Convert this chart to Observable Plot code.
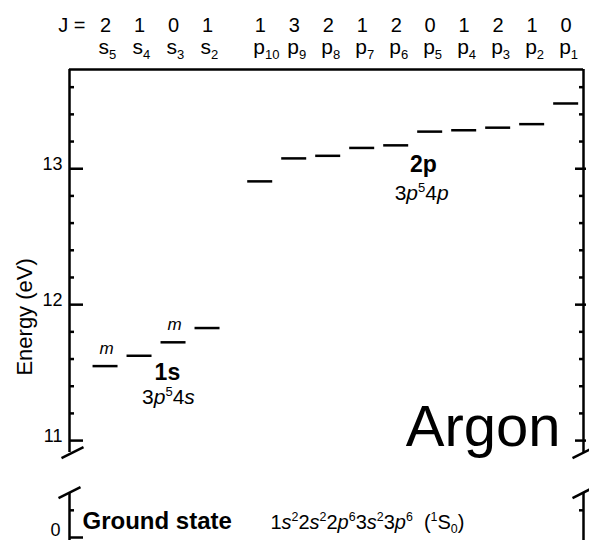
<!DOCTYPE html>
<html>
<head>
<meta charset="utf-8">
<script src="https://cdn.jsdelivr.net/npm/d3@7"></script>
<script src="https://cdn.jsdelivr.net/npm/@observablehq/plot@0.6"></script>
<style>
  html, body { margin: 0; padding: 0; background: #fff; }
  #chart svg { display: block; }
</style>
</head>
<body>
<div id="chart"></div>
<script>
// ---------------- data ----------------
const sLevels = ["s5", "s4", "s3", "s2"];
const sJ = [2, 1, 0, 1];
const sEnergy = [11.548, 11.624, 11.723, 11.828];

const pLevels = ["p10", "p9", "p8", "p7", "p6", "p5", "p4", "p3", "p2", "p1"];
const pJ = [1, 3, 2, 1, 2, 0, 1, 2, 1, 0];
const pEnergy = [12.907, 13.076, 13.095, 13.153, 13.172, 13.273, 13.283, 13.302, 13.328, 13.480];

const metastable = ["s5", "s3"];
const groundEnergy = 0;

const majorTicks = [0, 11, 12, 13];
const minorTicks = [0.2, 11.2, 11.4, 11.6, 11.8, 12.2, 12.4, 12.6, 12.8, 13.2, 13.4, 13.6];

const yLabel = "Energy (eV)";
const jPrefix = "J =";
const sGroupName = "1s";
const sGroupConfig = "3<i>p</i><sup>5</sup>4<i>s</i>";
const pGroupName = "2p";
const pGroupConfig = "3<i>p</i><sup>5</sup>4<i>p</i>";
const elementName = "Argon";
const groundName = "Ground state";
const groundConfig = "1<i>s</i><sup>2</sup>2<i>s</i><sup>2</sup>2<i>p</i><sup>6</sup>3<i>s</i><sup>2</sup>3<i>p</i><sup>6</sup>  (<sup>1</sup>S<sub>0</sub>)";
const metaMark = "m";

// ---------------- layout ----------------
const W = 589, H = 540;
const mL = 69, mR = 6, mT = 69, mB = 0;
const xDom = [-1.06, 14.06];
const yDom = [10.265, 13.73];
const kx = (W - mL - mR) / (xDom[1] - xDom[0]);
const ky = (H - mT - mB) / (yDom[1] - yDom[0]);
const xL = xDom[0], xR = xDom[1], yTop = yDom[1], yBot = yDom[0];
const groundShift = 10.287;            // broken axis: ground-state segment shifted up
const toV = e => (e < 5 ? e + groundShift : e);
const breakUpper = 10.912;             // where the upper axis segment ends
const breakLower = toV(0.331);         // where the lower axis segment starts
const groupGap = 1.55;

const levels = [
  ...sLevels.map((name, i) => ({name, J: sJ[i], E: sEnergy[i], col: i, letter: "s", sub: name.slice(1)})),
  ...pLevels.map((name, i) => ({name, J: pJ[i], E: pEnergy[i], col: sLevels.length - 1 + groupGap + i, letter: "p", sub: name.slice(1)}))
];
const levelMarkup = levels.map(d => `${d.letter}<sub>${d.sub}</sub>`);
const strip = m => m.replace(/<[^>]+>/g, "");

const axisSegs = [
  {x: xL, y1: breakUpper, y2: yTop}, {x: xL, y1: yBot, y2: breakLower},
  {x: xR, y1: breakUpper, y2: yTop}, {x: xR, y1: yBot, y2: breakLower}
];
const breaks = [
  {x: xL, v: breakUpper, s: 3}, {x: xR, v: breakUpper, s: 0},
  {x: xL, v: breakLower, s: 0}, {x: xR, v: breakLower, s: 0}
];

const F = "Liberation Sans, Arial, Helvetica, sans-serif";
const SW = 2.5;

const chart = Plot.plot({
  width: W, height: H,
  marginLeft: mL, marginRight: mR, marginTop: mT, marginBottom: mB,
  x: {domain: xDom, axis: null},
  y: {domain: yDom, axis: null},
  style: {fontFamily: F, background: "#fff", color: "#000", overflow: "visible"},
  marks: [
    // frame
    Plot.ruleY([yTop], {x1: xL, x2: xR, stroke: "#000", strokeWidth: SW}),
    Plot.ruleX(axisSegs, {x: "x", y1: "y1", y2: "y2", stroke: "#000", strokeWidth: SW}),
    Plot.link(breaks, {
      x1: d => d.x + (d.s - 11) / kx, y1: d => d.v - 5.5 / ky,
      x2: d => d.x + (d.s + 11) / kx, y2: d => d.v + 5.5 / ky,
      stroke: "#000", strokeWidth: SW
    }),
    // ticks (inward)
    Plot.ruleY(majorTicks, {y: d => toV(d), x1: xL, x2: xL + 14 / kx, stroke: "#000", strokeWidth: SW}),
    Plot.ruleY(minorTicks, {y: d => toV(d), x1: xL, x2: xL + 5 / kx, stroke: "#000", strokeWidth: SW}),
    Plot.ruleY(majorTicks.filter(d => d > 5), {y: d => toV(d), x1: xR - 8 / kx, x2: xR + 3 / kx, stroke: "#000", strokeWidth: SW}),
    Plot.ruleY(minorTicks, {y: d => toV(d), x1: xR - 4 / kx, x2: xR, stroke: "#000", strokeWidth: SW}),
    Plot.text(majorTicks.filter(d => d > 5), {x: xL, y: d => toV(d), text: d => String(d), dx: -7, dy: -4, textAnchor: "end", fontSize: 18}),
    Plot.text(majorTicks.filter(d => d < 5), {x: xL, y: d => toV(d), text: d => String(d), dx: -9, dy: -7, textAnchor: "end", fontSize: 18}),
    Plot.text([yLabel], {x: xL, y: 11.91, text: d => d, dx: -45, rotate: -90, fontSize: 22}),
    // energy levels
    Plot.ruleY(levels, {y: d => toV(d.E), x1: d => d.col - 12.5 / kx, x2: d => d.col + 12.5 / kx, stroke: "#000", strokeWidth: SW}),
    Plot.text(levels.filter(d => metastable.includes(d.name)), {
      x: "col", y: d => toV(d.E), text: () => metaMark, dx: 1, dy: -12,
      lineAnchor: "bottom", fontStyle: "italic", fontSize: 17
    }),
    // column headings
    Plot.text([jPrefix], {x: xL, y: yTop, text: d => d, dx: 16, dy: -38, textAnchor: "end", lineAnchor: "bottom", fontSize: 20}),
    Plot.text(levels, {x: "col", y: yTop, text: d => String(d.J), dy: -38, lineAnchor: "bottom", fontSize: 20}),
    Plot.text(levels, {x: "col", y: yTop, text: (d, i) => strip(levelMarkup[i]), dx: -7, dy: -16,
      textAnchor: "start", lineAnchor: "bottom", fontSize: 21}),
    // group annotations
    Plot.text([sGroupName], {x: 1.82, y: 11.449, text: d => d, lineAnchor: "bottom", fontWeight: "bold", fontSize: 23}),
    Plot.text([strip(sGroupConfig)], {x: 1.85, y: 11.272, text: d => d, lineAnchor: "bottom", fontSize: 21}),
    Plot.text([pGroupName], {x: 9.35, y: 12.978, text: d => d, lineAnchor: "bottom", fontWeight: "bold", fontSize: 23}),
    Plot.text([strip(pGroupConfig)], {x: 9.3, y: 12.768, text: d => d, lineAnchor: "bottom", fontSize: 21}),
    Plot.text([elementName], {x: xR, y: 11, text: d => d, dx: -23, dy: 5, textAnchor: "end", lineAnchor: "bottom", fontSize: 58}),
    // ground state
    Plot.text([groundName], {x: xL, y: toV(groundEnergy), text: d => d, dx: 13, dy: -9, textAnchor: "start",
      lineAnchor: "bottom", fontWeight: "bold", fontSize: 24, letterSpacing: 1}),
    Plot.text([strip(groundConfig)], {x: 4.85, y: toV(groundEnergy), text: d => d, dy: -9, textAnchor: "start",
      lineAnchor: "bottom", fontSize: 20})
  ]
});

// ---------- rich text (italics, super/subscripts) ----------
function segs(markup) {
  const out = [];
  let it = false, mode = null;
  for (const tok of markup.split(/(<\/?(?:i|sup|sub)>)/)) {
    if (!tok) continue;
    if (tok === "<i>") it = true;
    else if (tok === "</i>") it = false;
    else if (tok === "<sup>") mode = "sup";
    else if (tok === "<sub>") mode = "sub";
    else if (tok === "</sup>" || tok === "</sub>") mode = null;
    else out.push({t: tok.replace(/ /g, "\u00a0"), it, mode});
  }
  return out;
}
function applyRich(el, markup, size) {
  const ns = "http://www.w3.org/2000/svg";
  el.textContent = "";
  let cur = 0;
  for (const s of segs(markup)) {
    const ts = document.createElementNS(ns, "tspan");
    const target = s.mode === "sup" ? -0.38 * size : s.mode === "sub" ? 0.24 * size : 0;
    if (target !== cur) { ts.setAttribute("dy", target - cur); cur = target; }
    if (s.mode) ts.setAttribute("font-size", 0.62 * size);
    if (s.it) ts.setAttribute("font-style", "italic");
    ts.textContent = s.t;
    el.appendChild(ts);
  }
}
const richMap = new Map();
levelMarkup.forEach(m => richMap.set(strip(m), [m, 21]));
richMap.set(strip(sGroupConfig), [sGroupConfig, 21]);
richMap.set(strip(pGroupConfig), [pGroupConfig, 21]);
richMap.set(strip(groundConfig), [groundConfig, 20]);

d3.select(chart).selectAll("text").each(function () {
  const key = this.textContent;
  if (richMap.has(key)) {
    const [m, size] = richMap.get(key);
    applyRich(this, m, size);
  }
});

document.getElementById("chart").appendChild(chart);
</script>
</body>
</html>
